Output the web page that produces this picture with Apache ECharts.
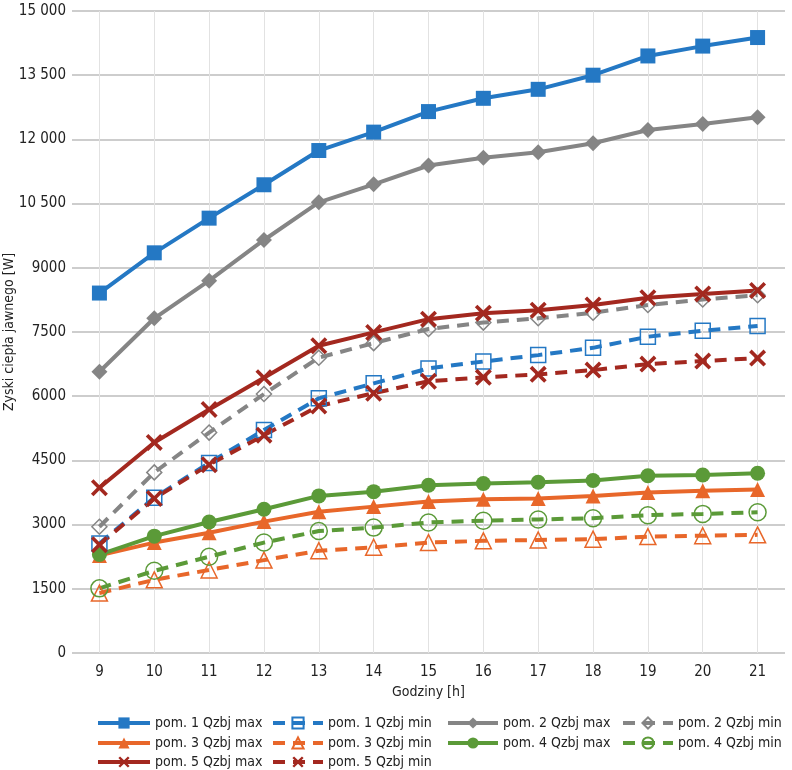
<!DOCTYPE html>
<html>
<head>
<meta charset="utf-8">
<script src="https://cdn.jsdelivr.net/npm/echarts@6/dist/echarts.min.js"></script>
<style>
  html, body { margin: 0; padding: 0; background: #fff; }
  #chart { width: 792px; height: 770px; }
</style>
</head>
<body>
<div id="chart"></div>
<script>
const hours = ['9', '10', '11', '12', '13', '14', '15', '16', '17', '18', '19', '20', '21']
const yTicks = [0, 1500, 3000, 4500, 6000, 7500, 9000, 10500, 12000, 13500, 15000]

const pom1Max = [8410, 9350, 10160, 10940, 11740, 12170, 12650, 12960, 13170, 13500, 13950, 14180, 14380]
const pom1Min = [2560, 3630, 4440, 5210, 5950, 6300, 6650, 6810, 6960, 7130, 7390, 7530, 7640]
const pom2Max = [6570, 7820, 8700, 9650, 10530, 10950, 11390, 11570, 11700, 11910, 12220, 12360, 12520]
const pom2Min = [2950, 4220, 5150, 6050, 6900, 7240, 7570, 7720, 7820, 7950, 8130, 8260, 8360]
const pom3Max = [2280, 2580, 2810, 3070, 3300, 3420, 3540, 3590, 3610, 3670, 3750, 3790, 3820]
const pom3Min = [1400, 1710, 1940, 2170, 2390, 2470, 2580, 2620, 2640, 2660, 2720, 2740, 2760]
const pom4Max = [2300, 2730, 3060, 3360, 3670, 3770, 3920, 3960, 3990, 4030, 4140, 4160, 4200]
const pom4Min = [1510, 1920, 2250, 2580, 2850, 2930, 3050, 3090, 3120, 3150, 3220, 3250, 3290]
const pom5Max = [3860, 4920, 5690, 6430, 7180, 7490, 7800, 7940, 8010, 8130, 8300, 8390, 8470]
const pom5Min = [2530, 3610, 4400, 5090, 5770, 6070, 6350, 6440, 6510, 6610, 6750, 6820, 6890]

const font = '"Liberation Sans Narrow", "DejaVu Sans Condensed", "Roboto", sans-serif'
const cross = 'path://M0,3 L3,0 L10,7 L17,0 L20,3 L13,10 L20,17 L17,20 L10,13 L3,20 L0,17 L7,10 Z'

// kolory serii
const blue = '#2478c4'
const gray = '#858585'
const orange = '#e8672a'
const green = '#5b9a38'
const red = '#a3281f'

function maxSeries(name, data, color, symbol, size) {
  return {
    name: name,
    type: 'line',
    data: data,
    symbol: symbol,
    symbolSize: size,
    lineStyle: { color: color, width: 4 },
    itemStyle: { color: color },
    emphasis: { disabled: true }
  }
}

function minSeries(name, data, color, symbol, size, filled) {
  return {
    name: name,
    type: 'line',
    data: data,
    symbol: symbol,
    symbolSize: size,
    lineStyle: { color: color, width: 4, type: [12, 8] },
    itemStyle: filled
      ? { color: color }
      : { color: 'rgba(255,255,255,0)', borderColor: color, borderWidth: 1.5 },
    emphasis: { disabled: true }
  }
}

// jedna pozycja legendy = jeden komponent, żeby kolumny były równe
function legendItem(name, left, top, w) {
  return {
    left: left,
    top: top,
    itemWidth: w || 50,
    itemHeight: 14,
    selectedMode: false,
    lineStyle: { width: 4 },
    textStyle: { fontFamily: font, fontSize: 14, color: '#222' },
    data: [name]
  }
}

const rows = [711, 731, 750]

const chart = echarts.init(document.getElementById('chart'))

chart.setOption({
  animation: false,
  grid: { left: 72, right: 7, top: 11, bottom: 117, outerBoundsMode: 'none' },
  legend: [
    legendItem('pom. 1 Qzbj max', 91, rows[0], 52),
    legendItem('pom. 1 Qzbj min', 266, rows[0]),
    legendItem('pom. 2 Qzbj max', 441, rows[0]),
    legendItem('pom. 2 Qzbj min', 616, rows[0]),
    legendItem('pom. 3 Qzbj max', 91, rows[1], 52),
    legendItem('pom. 3 Qzbj min', 266, rows[1]),
    legendItem('pom. 4 Qzbj max', 441, rows[1]),
    legendItem('pom. 4 Qzbj min', 616, rows[1]),
    legendItem('pom. 5 Qzbj max', 91, rows[2], 52),
    legendItem('pom. 5 Qzbj min', 266, rows[2])
  ],
  xAxis: {
    type: 'category',
    data: hours,
    boundaryGap: true,
    name: 'Godziny [h]',
    nameLocation: 'middle',
    nameGap: 32,
    nameMoveOverlap: false,
    nameTextStyle: { fontFamily: font, fontSize: 14, color: '#222' },
    axisLine: { show: false },
    axisTick: {
      show: true,
      alignWithLabel: true,
      inside: true,
      length: 642,
      lineStyle: { color: '#e2e2e2', width: 1 }
    },
    axisLabel: { fontFamily: font, fontSize: 15, color: '#222', margin: 12 },
    splitLine: { show: false }
  },
  yAxis: {
    type: 'value',
    min: yTicks[0],
    max: yTicks[yTicks.length - 1],
    interval: yTicks[1] - yTicks[0],
    name: 'Zyski ciepła jawnego [W]',
    nameLocation: 'middle',
    nameGap: 56,
    nameMoveOverlap: false,
    nameTextStyle: { fontFamily: font, fontSize: 14, color: '#222' },
    axisLine: { show: false },
    axisTick: { show: false },
    axisLabel: {
      fontFamily: font,
      fontSize: 15,
      color: '#222',
      margin: 6,
      formatter: v => v >= 10000 ? String(v).replace(/(\d)(?=(\d{3})$)/, '$1 ') : String(v)
    },
    splitLine: { lineStyle: { color: '#bdbdbd', width: 1.5 } }
  },
  series: [
    maxSeries('pom. 1 Qzbj max', pom1Max, blue, 'rect', 15),
    minSeries('pom. 1 Qzbj min', pom1Min, blue, 'rect', 15, false),
    maxSeries('pom. 2 Qzbj max', pom2Max, gray, 'diamond', 16),
    minSeries('pom. 2 Qzbj min', pom2Min, gray, 'diamond', 15, false),
    maxSeries('pom. 3 Qzbj max', pom3Max, orange, 'triangle', 15),
    minSeries('pom. 3 Qzbj min', pom3Min, orange, 'triangle', 16, false),
    maxSeries('pom. 4 Qzbj max', pom4Max, green, 'circle', 15),
    minSeries('pom. 4 Qzbj min', pom4Min, green, 'circle', 17, false),
    maxSeries('pom. 5 Qzbj max', pom5Max, red, cross, 17),
    minSeries('pom. 5 Qzbj min', pom5Min, red, cross, 17, true)
  ]
})
</script>
</body>
</html>
